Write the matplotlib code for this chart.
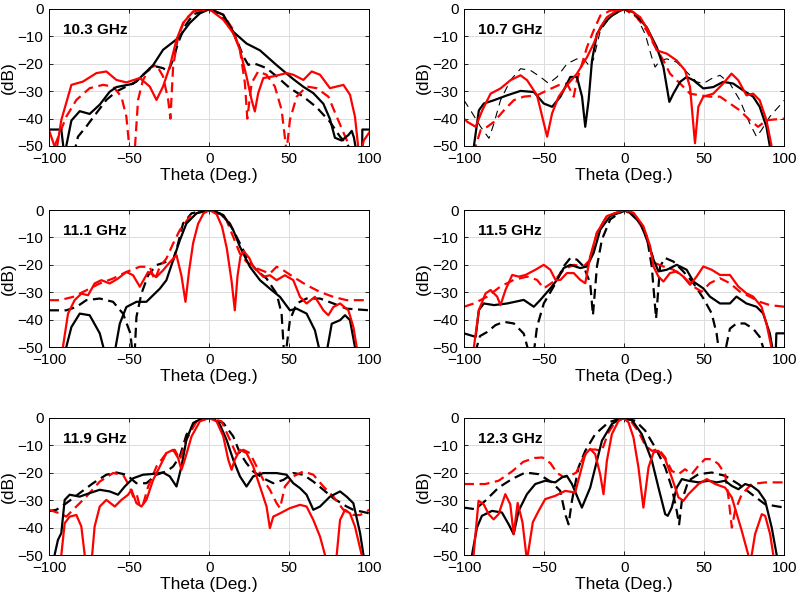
import matplotlib
matplotlib.use('Agg')
import matplotlib.pyplot as plt

plt.rcParams['font.family'] = ['Liberation Sans', 'DejaVu Sans']

# ---- data (theta in deg, level in dB) ----
freqs = ['10.3 GHz', '10.7 GHz', '11.1 GHz', '11.5 GHz', '11.9 GHz', '12.3 GHz']

# 10.3 GHz
t103_bs = [-100, -92.3, -90.5, -89.2, -86, -80.8, -74.6, -68.3, -62.1, -57.9, -47.5, -43.3, -35, -28.8, -20.4, -17.3, -12.1, -5.8, 0.4, 8.8, 15, 23.3, 31.7, 42.1, 52.5, 58.8, 65, 71.3, 75.4, 78.5, 82.7, 86.9, 89, 90.4, 92.1, 95.5, 95.6, 100]
d103_bs = [-44, -44, -53, -50, -40.7, -37.3, -38.3, -34.9, -30.2, -28.5, -27.3, -25.2, -20.5, -14.9, -11.1, -9.1, -5.1, -1.6, 0, -2.1, -8.3, -12.6, -15.1, -20.5, -25.6, -28.4, -30.7, -34.6, -40.2, -47, -48, -46, -44.5, -47, -53, -53, -44, -44]
t103_bd = [-84.5, -81.9, -76.7, -70.4, -64.2, -57.9, -51.7, -45.4, -41.3, -37.1, -32.9, -28.8, -25.6, -22.5, -19.4, -15.2, -10, -0.6, 6.7, 12.9, 17.1, 21.3, 24.4, 27.5, 30.6, 35.8, 42.1, 50.4, 58.8, 67.1, 75.4, 81.7, 86.9, 88]
d103_bd = [-53, -46.6, -42.9, -38, -33.2, -30.1, -28.3, -26.5, -24, -22, -21, -21.6, -22.8, -18.5, -12.4, -6.3, -2, 0, -2.1, -6.3, -11.2, -17.3, -20.4, -19.8, -20.4, -21.6, -24.6, -28.9, -32, -35.9, -41.2, -46.6, -50, -53]
t103_rs = [-100, -95.4, -92.3, -88.1, -86, -78.8, -70.4, -64.2, -57.9, -51.7, -43.3, -37.1, -32.9, -28.8, -24.6, -20.4, -16.3, -10, 0, 8.8, 15, 19.2, 23.3, 26.5, 28.5, 30.6, 33.8, 40, 48.3, 52.5, 58.8, 64, 69.2, 75.4, 79.6, 83.8, 87.9, 91, 93.5, 94.5, 96.5, 100]
d103_rs = [-44.2, -52, -40.5, -32, -27.7, -26.5, -23.4, -22.8, -25.9, -26.8, -25.2, -28.3, -33.2, -28.3, -21, -11.2, -5.1, -0.9, 0, -3.9, -8.8, -14.9, -24.6, -33.2, -37.4, -30.7, -25.2, -24.6, -23.4, -24, -25.9, -22.8, -24, -28.9, -28.3, -27.7, -31.3, -39.3, -53, -53, -48, -45]
t103_rd = [-96.5, -93.3, -89.2, -82.9, -74.6, -66.3, -60, -54.8, -51.7, -49.6, -46.5, -44.4, -41.3, -37.1, -32.9, -28.8, -25.6, -24.2, -22.5, -19.4, -15.2, -9, 0.4, 8.8, 15, 19.2, 22.3, 23.8, 26.5, 30.6, 35.8, 41, 45.2, 48.3, 50.4, 54.6, 60.8, 67.1, 74.4, 79.6, 85.8, 87.9]
d103_rd = [-50, -45.4, -39.3, -33.2, -28.9, -27.7, -28.3, -32, -39.3, -52, -52, -33.2, -25.9, -21.6, -20.4, -24.6, -33.2, -40, -21, -10, -3.9, -0.6, 0, -2.1, -7.6, -14.9, -27.1, -40, -27, -22.8, -24, -28.3, -36.8, -52, -40.5, -32, -28.3, -28.9, -32, -39.3, -47.8, -50]

# 10.7 GHz
t107_bs = [-94.5, -93.8, -90.7, -87.6, -81.3, -73, -64.7, -56.4, -50.2, -45, -39.8, -33.6, -29.5, -26.3, -24.3, -22.2, -20.1, -17, -12.9, -6.6, 0, 5.8, 14.1, 20.3, 24.5, 28.2, 30.7, 34.9, 39, 43.2, 49.4, 55.6, 61.8, 68, 74.3, 80.5, 84.6, 88.8, 90.9]
d107_bs = [-52, -50, -37, -34.5, -33.3, -31.5, -29.9, -30.3, -34.5, -35.7, -32, -24.8, -24.8, -32, -43, -33.3, -18.8, -9.1, -5.4, -1.8, 0, -1.2, -6.7, -13.9, -21.2, -33.9, -30.9, -26.6, -24.8, -26, -29, -28.5, -26.6, -27.2, -29.7, -32, -35.7, -43, -50]
t107_bd = [-100, -95.9, -89.6, -84.4, -81.3, -77.2, -71, -64.7, -58.5, -52.3, -47.1, -41.9, -35.7, -29.5, -25.3, -21.2, -19.1, -14.9, -8.7, 0, 7.9, 13.1, 17.2, 19.3, 22.4, 26.6, 32.8, 39, 45.2, 49.4, 54.6, 59.8, 66, 72.2, 78.4, 82.6, 85.7, 90.9, 100]
d107_bd = [-33.3, -37, -43, -47.2, -41.8, -33.3, -26, -21.8, -22.4, -24.8, -27.2, -24.8, -20, -18.2, -18.2, -21.2, -18.2, -7.9, -3, 0, -3, -9.1, -17.6, -21.2, -18.8, -18.2, -19.4, -23, -26.6, -27.2, -25.4, -24.2, -27.2, -33.3, -41.8, -46.6, -44.2, -39.3, -33.3]
t107_rs = [-100, -97.9, -92.7, -88.6, -83.4, -77.2, -71, -64.7, -60.6, -54.4, -48.1, -45, -40.9, -35.7, -29.5, -23.2, -19.1, -14.9, -10.8, -4.6, 0, 3.7, 10, 15.1, 20.3, 26.6, 32.8, 38, 41.1, 44.2, 46.3, 49.4, 55.6, 61.8, 67, 71.2, 76.3, 80.5, 84.6, 88.8, 92, 93]
d107_rs = [-40, -41.2, -43, -37, -30.9, -29, -26, -24.2, -26, -31.5, -46.6, -38.1, -32, -27.8, -23.6, -17.6, -12.7, -6.7, -3, -0.6, 0, -0.4, -3, -7.9, -15.1, -16.3, -18.8, -22.4, -28.5, -49, -35.7, -32, -30.9, -27.2, -23.6, -26, -31.5, -30.9, -33.3, -40.6, -50, -53]
t107_rd = [-93.5, -92.7, -89.6, -85.5, -81.3, -75.1, -68.9, -62.7, -54.4, -48.1, -40.9, -35.7, -31.5, -29.5, -26.3, -23.2, -19.1, -14.9, -8.7, 0, 7.9, 14.1, 18.3, 24.5, 28.6, 34.9, 41.1, 47.3, 53.5, 59.8, 66, 72.2, 78.4, 83.6, 88.8, 100]
d107_rd = [-53, -50, -44.2, -43, -41.2, -37, -33.3, -32, -31.5, -29.7, -27.8, -27.2, -32, -26, -20, -13.9, -7.9, -2.4, -0.6, 0, -3, -7.9, -12.7, -18.8, -23.6, -27.2, -30.9, -31.5, -32, -32, -34.5, -37, -40.6, -43, -40.6, -40]

# 11.1 GHz
t111_bs = [-90, -89.2, -86, -80.8, -74.6, -68.3, -65.2, -59, -55.8, -51.7, -45.4, -39.2, -35, -30.8, -26.7, -22.5, -18.3, -14.2, -7.9, 0.4, 8.8, 15, 19.2, 25.4, 31.7, 37.9, 44.2, 50.4, 54.6, 60.8, 66, 69.2, 73.3, 76.5, 81.7, 84.8, 87.9, 91, 92]
d111_bs = [-53, -50, -42.7, -37.8, -38.4, -45, -52, -52, -41.5, -35.4, -33.5, -33.5, -31.1, -28.7, -25.6, -18.3, -11, -4.9, -1.2, 0, -1.8, -7.3, -13.4, -20.7, -25.6, -28.7, -31.7, -36.6, -36, -37.8, -43.9, -52, -52, -41.5, -40.2, -38.4, -40.2, -50, -53]
t111_bd = [-100, -89.2, -82.9, -76.7, -68.3, -60, -53.8, -49.2, -47.9, -46.5, -45.4, -42.3, -38.1, -32.9, -26.7, -22.5, -19.4, -16.3, -11, -1, 6.7, 12.9, 19.2, 24.4, 29.6, 35.8, 42.1, 45.2, 46.7, 47.9, 50.4, 54.6, 60.8, 69.2, 77.5, 85.8, 100]
d111_bd = [-36.6, -36.6, -35.4, -32.9, -32.3, -33.5, -37.8, -45, -52, -52, -39, -30.5, -23.8, -20.1, -18.9, -18.3, -12.2, -4.9, -1.2, 0, -1.2, -4.9, -12.2, -18.3, -22, -25, -30.5, -37.8, -52, -52, -40.2, -34.1, -32.3, -32.3, -34.1, -36, -36.6]
t111_rs = [-92, -91.3, -88.1, -84, -79.8, -75.6, -71.5, -67.3, -62.1, -56.9, -51.7, -47.5, -43.3, -38.1, -32.9, -28.8, -24.5, -20.4, -17.3, -14.8, -12.5, -10, -6.9, -3.5, 0.4, 4.6, 8, 11, 14, 16, 17.7, 19.5, 21.5, 25, 27.5, 33.8, 37.9, 42.1, 47.3, 52.5, 56.7, 60.8, 66, 71.3, 74.4, 77.5, 81.7, 86.9, 90, 92.1, 93]
d111_rs = [-53, -50, -37.8, -32.9, -30.5, -31.1, -26.8, -25.6, -26.8, -25, -22.6, -23.8, -28, -22.6, -24.4, -22, -19, -16.5, -24, -33.5, -22, -12, -5, -1.2, 0, -1.5, -6, -14, -26, -36.6, -24, -17, -15, -17.5, -20.7, -24.4, -23.8, -25.6, -23.8, -25.6, -31.7, -34.1, -31.7, -36.6, -38.4, -35.4, -34.1, -36.6, -42.7, -50, -53]
t111_rd = [-100, -93.3, -85, -76.7, -68.3, -60, -51.7, -43.3, -37.1, -34, -30.8, -26.7, -22.5, -18.3, -12.1, -3.8, 4.6, 10.8, 15, 19.2, 23.3, 29.6, 37.9, 42.1, 46.3, 52.5, 60.8, 69.2, 77.5, 85.8, 100]
d111_rd = [-32.9, -32.9, -31.7, -29.3, -26.8, -25, -22.6, -20.7, -20.7, -25.6, -20.7, -17.7, -12.2, -7.3, -2.4, 0, -0.6, -3.7, -9.8, -15.9, -18.9, -21.3, -23.2, -20.7, -22, -24.4, -27.4, -29.9, -31.7, -32.9, -32.9]

# 11.5 GHz
t115_bs = [-100, -92.7, -90.7, -87.6, -81.3, -73, -62.7, -56.4, -52.3, -46.1, -41.9, -37.8, -33.6, -27.4, -23.2, -19.1, -14.9, -8.7, 1.7, 10, 15.1, 18.3, 21.4, 26.6, 32.8, 39, 43.2, 49.4, 53.5, 59.8, 66, 70.1, 76.3, 82.6, 86.7, 90.9, 93, 94.6, 95, 100]
d115_bs = [-45, -46.3, -36.5, -34.1, -34.7, -34.1, -32.8, -35.3, -32.8, -28.6, -25.5, -21.2, -20, -21.2, -20.6, -15.7, -7.1, -2.2, 0, -4.7, -12, -18.1, -22.4, -21.8, -20, -21.8, -26.1, -28.6, -31.6, -34.1, -34.1, -31.6, -34.1, -35.3, -37.7, -45, -52, -52, -45, -45]
t115_bd = [-93, -90, -85.5, -80.3, -75.1, -68.9, -62.7, -59.5, -56.4, -54.4, -50.2, -44, -37.8, -33.6, -29.5, -25.3, -21.2, -19.5, -17, -13.9, -8.7, 0, 7.9, 14.1, 17.2, 19.9, 22.4, 25.5, 30.7, 36.9, 43.2, 49.4, 54.6, 57.7, 59.3, 62.9, 66, 70.1, 75.3, 80.5, 84.6, 87.8]
d115_bd = [-52, -46, -44.5, -42, -40.8, -41.4, -45.1, -52, -52, -42.6, -34.1, -27.9, -20.6, -17.5, -18.1, -20.6, -26.7, -38.4, -20.6, -10.8, -3.4, 0, -2.8, -9.6, -20.6, -39.6, -20.6, -17.5, -18.8, -22.4, -26.7, -32.2, -37.7, -45.1, -52, -52, -43.3, -41.4, -41.4, -43.3, -46.3, -52]
t115_rs = [-94.5, -93.8, -90.7, -86.5, -83.4, -79.3, -77.2, -74.1, -69.9, -65.8, -61.6, -55.4, -50.2, -46.1, -42.9, -39.8, -35.7, -31.5, -27.4, -24.3, -21.2, -17, -10.8, 0, 5.8, 12, 16.2, 18.3, 21.4, 24.5, 28.6, 32.8, 36.9, 41.1, 45.2, 49.4, 54.6, 59.8, 66, 71.2, 76.3, 80.5, 85.7, 88.8, 91.9, 92.5]
d115_rs = [-53, -50, -36.5, -30.4, -29.2, -31.6, -34.7, -29.2, -23.7, -24.3, -23.7, -21.8, -20, -21.8, -25.5, -25.5, -23, -23, -25.5, -26.7, -16.9, -8.3, -2.2, 0, -1, -5.9, -13.2, -20.6, -24.3, -26.1, -23, -22.4, -24.3, -27.3, -24.3, -20.6, -21.8, -23.7, -23.7, -27.9, -30.4, -31.6, -35.3, -41.4, -50, -53]
t115_rd = [-100, -93.8, -85.5, -77.2, -68.9, -60.6, -54.4, -50.2, -44, -37.8, -31.5, -25.3, -21.2, -17, -10.8, 0, 5.8, 12, 16.2, 19.3, 24.5, 30.7, 36.9, 43.2, 48.3, 53.5, 59.8, 66, 72.2, 78.4, 84.6, 90.9, 100]
d115_rd = [-35.3, -34.1, -31.6, -27.9, -25.5, -24.3, -25.5, -28.6, -26.1, -21.8, -20, -20.6, -18.1, -8.3, -2.2, 0, -1.6, -7.1, -14.5, -19.4, -20.6, -21.8, -24.3, -27.9, -29.8, -26.7, -24.9, -26.7, -29.8, -31.6, -33.5, -34.7, -35.3]

# 11.9 GHz
t119_bs = [-97, -96.5, -94.4, -92.3, -90.2, -87.1, -80.8, -74.6, -68.3, -62.1, -56.9, -52.7, -47.5, -41.3, -35, -28.8, -24.6, -20.4, -17.3, -14.2, -10, -3.8, 2.5, 6.7, 10.8, 15, 19.2, 23.3, 27.5, 33.8, 42.1, 48.3, 52.5, 56.7, 60.8, 65, 69.2, 75.4, 81.7, 85.8, 90, 94.2, 96.3, 97]
d119_bs = [-53, -50, -44.5, -42, -29.9, -28, -28.7, -27.4, -26.2, -26.8, -28, -25, -22, -20.7, -20.4, -19.9, -21.3, -25, -17.7, -7.9, -1.8, 0, 0, -2.4, -7.9, -15.2, -21.3, -25, -21.3, -20.1, -20.1, -20.7, -23.8, -25.6, -28, -33.5, -32.3, -28.7, -26.8, -28.7, -31.1, -42, -50, -53]
t119_bd = [-100, -95.4, -89.2, -80.8, -72.5, -64.2, -57.9, -51.7, -45.4, -39.2, -32.9, -26.7, -22.5, -18.3, -14.2, -7.9, 0, 8.8, 15, 19.2, 23.3, 27.5, 33.8, 40, 46.3, 52.5, 58.8, 65, 71.3, 77.5, 85.8, 90, 100]
d119_bd = [-34, -33.5, -31.1, -27.4, -23.8, -20.7, -19.9, -20.7, -23.8, -23.8, -20.7, -19.5, -17.7, -14, -6.1, -1.2, 0, -1.8, -6.7, -12.8, -16.5, -19.5, -22, -23.8, -22.6, -20.1, -20.7, -23.2, -26.2, -29.3, -32.3, -33.5, -34.8]
t119_rs = [-92.8, -92.3, -90.2, -87.1, -82.9, -79.8, -77.7, -76.5, -73.5, -71.5, -68.3, -64.2, -58.9, -54.8, -50.6, -48.5, -45.4, -42.3, -39.2, -35, -30.8, -26.7, -22.5, -19.4, -17.3, -15.2, -11, -5.8, 0, 4.6, 8.8, 11.9, 14, 16, 19.2, 23.3, 27.5, 31.7, 35.8, 37.9, 40, 44.2, 50.4, 56.7, 60.8, 65, 69.2, 72.3, 73, 79, 79.6, 81.7, 84.8, 87.9, 91, 95.2, 96]
d119_rs = [-53, -50, -38.4, -36, -35.4, -39.6, -50, -53, -53, -39.6, -32.3, -29.9, -32.3, -29.9, -28, -26.2, -31.1, -32.3, -29.9, -22.6, -17.7, -12.8, -11.6, -14.6, -18.9, -15.2, -6.7, -1.2, 0, -1.2, -6.7, -15.2, -18.9, -15.2, -11.6, -12.8, -17.7, -25, -32.3, -40.2, -36, -34.8, -32.9, -31.7, -32.3, -37.2, -43.3, -50, -53, -53, -50, -37.2, -33.5, -34.8, -39.6, -50, -53]
t119_rd = [-100, -93.3, -89.2, -82.9, -76.7, -68.3, -60, -53.8, -49.6, -47.5, -45.4, -43.3, -41, -38.1, -32.9, -26.7, -21.5, -18.3, -14.2, -7.9, 0, 7.7, 12.9, 17.1, 21.3, 25.4, 29.6, 33.8, 37.9, 42.1, 44.2, 47.3, 52.5, 58.8, 65, 71.3, 77.5, 83.8, 90, 94.2, 100]
d119_rd = [-33.5, -34.8, -36, -32.3, -28.7, -23.2, -20.1, -20.7, -25, -28.7, -27.4, -32.3, -31, -25, -17.7, -12.8, -11.6, -15.2, -7.9, -1.2, 0, -1.2, -7.9, -13.4, -11.6, -12.8, -17.7, -22.6, -26.2, -31.1, -32.9, -25, -21.3, -19.5, -20.7, -25, -28.7, -33.5, -35.4, -35.4, -33.5]

# 12.3 GHz
t123_bs = [-96, -95, -91.9, -88.8, -82.5, -76.3, -72.1, -69, -65.9, -60.7, -55.5, -49.3, -43, -38.9, -35.8, -32.6, -26.4, -21.2, -17, -13.9, -7.7, -1.5, 4.8, 11, 17.3, 21.4, 25.6, 27.2, 29.7, 32.8, 36, 40.1, 46.4, 52.6, 57.8, 63, 67.2, 71.3, 75.5, 79.6, 83.8, 88, 92.1, 95.2, 96]
d123_bs = [-53, -50, -40, -35.7, -33.9, -34.5, -38.8, -42.4, -33.9, -27.8, -24.1, -22.9, -23.5, -21.7, -21.1, -24.1, -32.7, -25.4, -15.6, -8.3, -2.2, 0, -0.7, -5.9, -15.6, -25.4, -35.1, -35.7, -32.7, -25.4, -22.3, -22.9, -23.5, -22.9, -23.5, -22.9, -24.8, -26, -24.1, -24.8, -26.6, -30.2, -40, -50, -53]
t123_bd = [-100, -92.9, -86.7, -78.4, -70.1, -61.7, -53.4, -45.1, -39.9, -36.8, -34.7, -32.6, -28.5, -24.3, -18.1, -9.8, -1.5, 6.9, 13.1, 19.3, 25.6, 29.7, 32.8, 34.3, 36, 40.1, 46.4, 54.7, 63, 71.3, 79.6, 88, 100]
d123_bd = [-32.7, -33.3, -30.2, -25.4, -22.3, -19.9, -20.5, -23.5, -26.6, -35.1, -38.8, -30.2, -18, -12, -5.9, -1.6, 0, -1, -4.6, -10.7, -18, -25.4, -33.9, -38.8, -30.2, -22.9, -20.5, -19.9, -21.1, -24.1, -27.8, -31.5, -32.7]
t123_rs = [-94.5, -94, -90.9, -87.7, -84.6, -81.5, -78.4, -74.2, -71.1, -69, -66.5, -63.5, -60.7, -57, -53.4, -49.3, -43, -36.8, -30.6, -24.3, -21.2, -18.1, -15, -12.9, -10.8, -7.7, -3.5, -0.4, 2.7, 5.8, 8.9, 12, 15.2, 18.3, 21.4, 25.6, 29.7, 33.9, 37, 40.1, 46.4, 51.6, 56.8, 63, 67.2, 73.4, 77.5, 78.5, 79.6, 81.7, 85.9, 88, 91.1, 93.1, 94]
d123_rs = [-53, -50, -30.2, -31.5, -35.1, -37, -35.1, -27.8, -31.5, -42.4, -31, -38, -52, -38, -33.9, -29.6, -28.4, -26.6, -27.2, -13.2, -11.3, -13.2, -20.5, -27.8, -15.6, -5.9, -1, 0, -1.6, -7.1, -18, -32.7, -18, -12.6, -12, -15, -21.7, -29, -30.2, -27.8, -24.1, -22.3, -24.1, -25.4, -29, -41.2, -50, -53, -50, -42.4, -35.1, -35.7, -42.4, -50, -53]
t123_rd = [-100, -86.7, -78.4, -70, -63, -56, -51, -46, -42, -38, -34, -30, -26, -22, -18, -14, -10, -5.6, 0, 4.8, 9, 13.1, 17.3, 21.4, 25.6, 29.7, 33.9, 38, 42.2, 46.4, 50.5, 54.7, 58.8, 63, 65.1, 67.2, 69.2, 73.4, 79.6, 88, 100]
d123_rd = [-24.1, -24.1, -22.9, -19.5, -16, -14.6, -14.4, -16.5, -20, -21.5, -21, -20, -15, -11.5, -11.5, -12, -5.5, -1.5, 0, -1.6, -5, -10, -12, -11.3, -14.4, -19.3, -20.5, -18.7, -20.5, -17.4, -15, -15, -16.8, -20.5, -29, -40, -33.9, -27.8, -24.1, -23.5, -23.5]

panels = [
    (t103_bs, d103_bs, t103_bd, d103_bd, t103_rs, d103_rs, t103_rd, d103_rd),
    (t107_bs, d107_bs, t107_bd, d107_bd, t107_rs, d107_rs, t107_rd, d107_rd),
    (t111_bs, d111_bs, t111_bd, d111_bd, t111_rs, d111_rs, t111_rd, d111_rd),
    (t115_bs, d115_bs, t115_bd, d115_bd, t115_rs, d115_rs, t115_rd, d115_rd),
    (t119_bs, d119_bs, t119_bd, d119_bd, t119_rs, d119_rs, t119_rd, d119_rd),
    (t123_bs, d123_bs, t123_bd, d123_bd, t123_rs, d123_rs, t123_rd, d123_rd),
]

# axes positions in figure fraction [left, bottom, width, height]
lefts = [0.0613, 0.5807]
bottoms = [0.7579, 0.4245, 0.0796]
w, h = 0.4010, 0.2272

fig = plt.figure(figsize=(7.99, 6.03), dpi=100)

for i, (tbs, dbs, tbd, dbd, trs, drs, trd, drd) in enumerate(panels):
    ax = fig.add_axes([lefts[i % 2], bottoms[i // 2], w, h])
    # thin dashed black only in the 10.7 GHz panel
    bd_lw = 0.8 if i == 1 else 1.6
    bd_dash = (7, 5) if i == 1 else (4.5, 2.5)
    ax.plot(tbd, dbd, color='black', lw=bd_lw, dashes=bd_dash)
    ax.plot(trd, drd, color='red', lw=1.6, dashes=(4.5, 2.5))
    ax.plot(tbs, dbs, color='black', lw=1.6)
    ax.plot(trs, drs, color='red', lw=1.6)

    ax.set_xlim(-100, 100)
    ax.set_ylim(-50, 0)
    ax.set_xticks([-100, -50, 0, 50, 100])
    ax.set_yticks([0, -10, -20, -30, -40, -50])
    ax.grid(True, color='#dcdcdc', lw=0.7)
    ax.set_axisbelow(True)
    ax.tick_params(direction='in', length=3, width=0.6, labelsize=11,
                   top=True, right=True, pad=4)
    for s in ax.spines.values():
        s.set_linewidth(0.7)
    ax.set_xlabel('Theta (Deg.)', fontsize=12.5, labelpad=2)
    ax.set_ylabel('(dB)', fontsize=12.5, labelpad=1)
    ax.text(0.045, 0.85, freqs[i], transform=ax.transAxes, fontsize=11,
            fontweight='bold', va='center', ha='left')

fig.savefig('out.png', dpi=100)
